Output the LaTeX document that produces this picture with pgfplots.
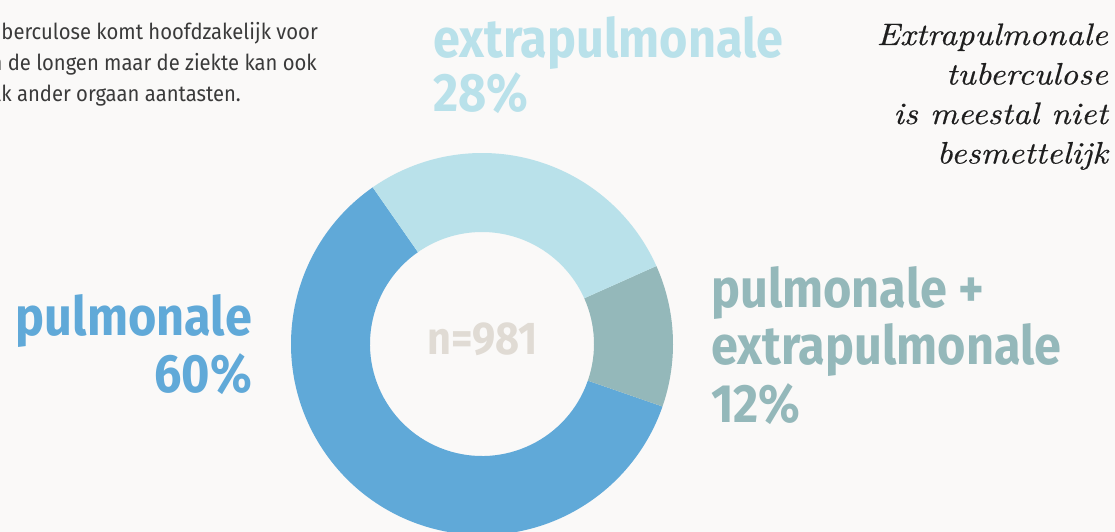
\documentclass[border=0pt]{standalone}
\usepackage{pgfplots}
\usepackage{pgfplotstable}
\pgfplotsset{compat=1.18}
\usepackage{fontspec}
\newfontfamily\bigfont{Fira Sans}[FakeStretch=0.90]
\newfontfamily\lightfont{Fira Sans}[FakeStretch=0.92]
\newfontfamily\itfont{lmroman10-italic.otf}[FakeStretch=1.1,FakeBold=0.5]
\definecolor{bg}{HTML}{FAF9F8}
\definecolor{cpul}{HTML}{60A9D8}
\definecolor{cextra}{HTML}{B9E1EA}
\definecolor{cboth}{HTML}{94B8BA}
\definecolor{cn}{HTML}{E0DBD4}
\definecolor{ctxt}{HTML}{3A3A3A}
\definecolor{citxt}{HTML}{1E1E1E}

\pgfplotstableread{
label value
pulmonale 60
pulmonaleextra 12
extrapulmonale 28
}\slices

\begin{document}
\begin{tikzpicture}
\pgfplotstablegetelem{0}{value}\of\slices \pgfmathsetmacro\va{\pgfplotsretval}
\pgfplotstablegetelem{1}{value}\of\slices \pgfmathsetmacro\vb{\pgfplotsretval}
\pgfplotstablegetelem{2}{value}\of\slices \pgfmathsetmacro\vc{\pgfplotsretval}
\pgfmathsetmacro\total{\va+\vb+\vc}
\pgfmathsetmacro\aA{124.9}
\pgfmathsetmacro\aB{\aA+3.6*(\va/\total)*100}
\pgfmathsetmacro\aC{\aB+3.6*(\vb/\total)*100}
\pgfmathsetmacro\aD{\aC+3.6*(\vc/\total)*100}
\def\cx{482}\def\cy{188}\def\Ro{191}\def\Ri{112}
\newcommand\slice[3]{%
  \fill[#1] (axis cs:{\cx+\Ro*cos(#2)},{\cy+\Ro*sin(#2)})
    arc[start angle=#2,end angle=#3,radius=\Ro]
    -- (axis cs:{\cx+\Ri*cos(#3)},{\cy+\Ri*sin(#3)})
    arc[start angle=#3,end angle=#2,radius=\Ri] -- cycle;}
\begin{axis}[
  x=1pt, y=1pt, xmin=0, xmax=1115, ymin=0, ymax=532,
  hide axis, clip=false,
]
\fill[bg] (axis cs:0,0) rectangle (axis cs:1115,532);
\coordinate (sw) at (axis cs:0,0);
\coordinate (ne) at (axis cs:1115,532);
\slice{cpul}{\aA}{\aB}
\slice{cboth}{\aB}{\aC}
\slice{cextra}{\aC}{\aD}
% top-left text
\begin{scope}[every node/.style={inner sep=0pt, text=ctxt, font=\lightfont\fontsize{22}{31}\selectfont}]
\node[anchor=base east] at (axis cs:318,492) {Tuberculose komt hoofdzakelijk voor};
\node[anchor=base east] at (axis cs:317,461) {in de longen maar de ziekte kan ook};
\node[anchor=base east] at (axis cs:241,430) {elk ander orgaan aantasten.};
\end{scope}
% italic note
\begin{scope}[every node/.style={inner sep=0pt, text=citxt, font=\itfont\fontsize{31}{39}\selectfont}]
\node[anchor=base east] at (axis cs:1108,487) {Extrapulmonale};
\node[anchor=base east] at (axis cs:1108,447.5) {tuberculose};
\node[anchor=base east] at (axis cs:1108,408) {is meestal niet};
\node[anchor=base east] at (axis cs:1108,368.5) {besmettelijk};
\end{scope}
% big labels
\begin{scope}[every node/.style={inner sep=0pt, font=\bigfont\bfseries\fontsize{54}{56}\selectfont}]
\node[anchor=base west, text=cextra] at (axis cs:433,474) {extrapulmonale};
\node[anchor=base west, text=cextra] at (axis cs:433,420) {28\%};
\node[anchor=base east, text=cpul] at (axis cs:252,196) {pulmonale};
\node[anchor=base east, text=cpul] at (axis cs:252,139) {60\%};
\node[anchor=base west, text=cboth] at (axis cs:711,224) {pulmonale +};
\node[anchor=base west, text=cboth] at (axis cs:711,167) {extrapulmonale};
\node[anchor=base west, text=cboth] at (axis cs:711,109) {12\%};
\end{scope}
\node[inner sep=0pt, anchor=base, text=cn, font=\bigfont\bfseries\fontsize{46}{48}\selectfont] at (axis cs:482.5,177) {n=981};
\end{axis}
\pgfresetboundingbox
\path (sw) rectangle (ne);
\end{tikzpicture}
\end{document}
